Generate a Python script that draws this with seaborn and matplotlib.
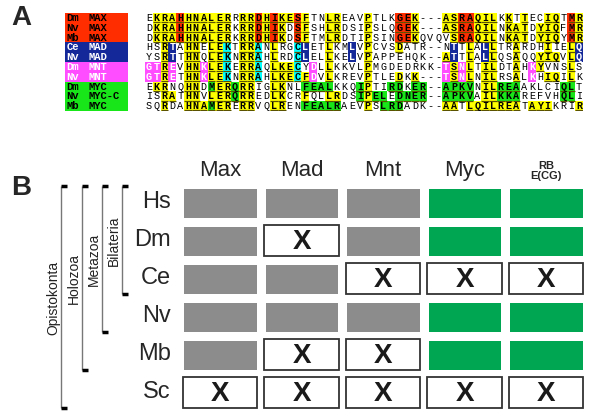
import numpy as np
import pandas as pd
import matplotlib
matplotlib.use("Agg")
import matplotlib.pyplot as plt
from matplotlib.colors import ListedColormap
from matplotlib.patches import Rectangle
import seaborn as sns

# ---------------- panel A: bHLHZip alignment ----------------
species_a = ["Dm", "Nv", "Mb", "Ce", "Nv", "Dm", "Nv", "Dm", "Nv", "Mb"]
genes_a = ["MAX", "MAX", "MAX", "MAD", "MAD", "MNT", "MNT", "MYC", "MYC-C", "MYC"]
family_a = ["max", "max", "max", "mad", "mad", "mnt", "mnt", "myc", "myc", "myc"]

# residues, written in blocks of 10
sequences = [
    "EKRAHHNALE RRRRDHIKES FTNLREAVPT LKGEK---AS RAQILKKTTE CIQTMR",
    "DKRAHHNALE RKRRDHIKDS FSHLRDSIPS LQGEK---AS RAQILNKATD YIQFMR",
    "DKRAHHNALE RKRRDHIKDS FTMLRDTIPS INGEKQVQVS RAQILNKATD YIQYMR",
    "HSRTAHNELE KTRRANLRGC LETLKMLVPC VSDATR--NT TLALLTRARD HIIELQ",
    "YSRTTHNQLE KNRRAHLRDC LELLKELVPA PPEHQK--AT TLALLQSAQQ YIQVLQ",
    "GTREVHNKLE KERRAQLKEC YDLLKKVLPM GDEDRKK-TS NLTILDTAHK YVNSLS",
    "GTRETHNKLE KNRRAHLKEC FDVLKREVPT LEDKK---TS NLNILRSALK HIQILK",
    "EKRNQHNDME RQRRIGLKNL FEALKKQIPT IRDKER--AP KVNILREAAK LCIQLT",
    "ISRATHNVLE RQRREDLKCR FQLLRDSIPE LEDNER--AP KVAILKKARE FVHQLI",
    "SQRDAHNAME RERRVQLREN FEALRAEVPS LRDADK--AA TLQILREATA YIKRIR",
]
# shading per residue: . none, y conserved, r MAX, b MAD, c MAD/MNT, m MNT, g MYC
shading = [
    ".yyyryyyyy y.yyryryyr y..yy...y. ..rry...yy rryyy.y.y. .yy.ry",
    ".yyyryyyyy y.yyryry.r y..yy...y. ..rry...yy rryyy.yyy. yyy.ry",
    ".yyyryyyyy y.yyryry.r y..yy...y. ..rry....y rryyy.yyy. yyy.ry",
    "..yb.yy.yy c.yyc.y..c b..y..b.y. ..y......b .y.by..y.. .y..yb",
    "..yb.yy.yy c.yyc.y..c b..y..b.y. ........yb .y.by..y.. yyy.yb",
    "mmym.yymyy c.yyc.yyyc .m.y....y. ........my my.yy..y.m y...y.",
    "mmym.yymyy c.yyc.yyyc ym.y....y. ..y.y...my my.yy..y.m .yy.y.",
    ".yy..yy.gy ygyy..yy.. gggg...gy. .gg.gg..gg gg.yyggg.. ...gg.",
    "..yy.yy.yy ygyy..yy.. y..yy..gyg g.gggg..gg gg.yyggg.. ...gg.",
    "..y..yyygy y.yy..yy.. ggggg...y. ggg.....yy .yyyyyyy.y yy...y",
]

# ---------------- panel B: presence / absence ----------------
species_b = ["Hs", "Dm", "Ce", "Nv", "Mb", "Sc"]
genes_b = ["Max", "Mad", "Mnt", "Myc", "RB\nE(CG)"]
gene_group = [1, 1, 1, 2, 2]  # 1 = grey (Max network), 2 = green (Myc)
presence = [
    [1, 1, 1, 1, 1],
    [1, 0, 1, 1, 1],
    [1, 1, 0, 0, 0],
    [1, 1, 1, 1, 1],
    [1, 0, 0, 1, 1],
    [0, 0, 0, 0, 0],
]
clades = ["Bilateria", "Metazoa", "Holozoa", "Opistokonta"]
clade_size = [3, 4, 5, 6]  # number of species from the top

sns.set_style("white")
plt.rcParams["font.family"] = ["Liberation Sans", "DejaVu Sans"]

W, H = 600, 420
fig = plt.figure(figsize=(6, 4.2), dpi=100)


def box(x0, y0, x1, y1):
    return [x0 / W, 1 - y1 / H, (x1 - x0) / W, (y1 - y0) / H]


codes = ".yrbcmg"
shade_colors = ["white", "#ffff00", "#ff2d00", "#14289a", "#00ffff", "#ff4dff", "#19e619"]
seq = [s.replace(" ", "") for s in sequences]
shd = [s.replace(" ", "") for s in shading]
shade_idx = np.array([[codes.index(c) for c in row] for row in shd])
SEQ_FS = 7.3

ax_seq = fig.add_axes(box(145, 13, 583, 111))
sns.heatmap(shade_idx, cmap=ListedColormap(shade_colors), vmin=-0.5, vmax=6.5,
            cbar=False, xticklabels=False, yticklabels=False, ax=ax_seq)
ul_y, ul_x0, ul_x1 = [], [], []
for i, (s, c) in enumerate(zip(seq, shd)):
    for j, (ch, code) in enumerate(zip(s, c)):
        ax_seq.text(j + 0.5, i + 0.52, ch, ha="center", va="center",
                    family="Liberation Mono", fontsize=SEQ_FS,
                    weight="normal" if code == "." else "bold",
                    color="white" if code in "bm" else "black")
        if code in "yrgc":
            ul_y.append(i + 0.93)
            ul_x0.append(j + 0.02)
            ul_x1.append(j + 0.98)
ax_seq.hlines(ul_y, ul_x0, ul_x1, colors="#5a5200", lw=0.9)

# name boxes
fam_order = ["max", "mad", "mnt", "myc"]
fam_colors = ["#ff2d00", "#14289a", "#ff4dff", "#19e619"]
fam_idx = np.array([[fam_order.index(f)] for f in family_a])
ax_name = fig.add_axes(box(64.5, 13, 128, 111))
sns.heatmap(fam_idx, cmap=ListedColormap(fam_colors), vmin=-0.5, vmax=3.5,
            cbar=False, xticklabels=False, yticklabels=False, ax=ax_name)
for i, (sp, g, f) in enumerate(zip(species_a, genes_a, family_a)):
    col = "white" if f in ("mad", "mnt") else "black"
    ax_name.text(0.03, i + 0.52, sp, ha="left", va="center", family="Liberation Mono",
                 fontsize=SEQ_FS + 0.3, weight="bold", color=col)
    ax_name.text(0.38, i + 0.52, g, ha="left", va="center", family="Liberation Mono",
                 fontsize=SEQ_FS + 0.3, weight="bold", color=col)

# ---------------- panel B ----------------
pres = np.array(presence)
mat = pres * np.array(gene_group)[None, :]
df = pd.DataFrame(mat, index=species_b, columns=genes_b)

ax_b = fig.add_axes(box(179.25, 183.5, 586.75, 411.5))
sns.heatmap(df, cmap=ListedColormap(["white", "#8c8c8c", "#00a651"]), vmin=-0.5, vmax=2.5,
            linewidths=5.3, linecolor="white", cbar=False, ax=ax_b)
ax_b.xaxis.tick_top()
ax_b.tick_params(length=0, pad=2)
ax_b.set_xticklabels(genes_b, rotation=0, fontsize=16)
ax_b.set_yticklabels(species_b, rotation=0, fontsize=17)
ax_b.tick_params(axis="y", pad=6)
rb = ax_b.get_xticklabels()[-1]
rb.set_fontsize(8)
rb.set_fontweight("bold")
rb.set_linespacing(1.0)
ax_b.set_xlabel("")
ax_b.set_ylabel("")

gx, gy = 3.7 / 81.5, 3.6 / 38
for i in range(pres.shape[0]):
    for j in range(pres.shape[1]):
        if pres[i, j] == 0:
            ax_b.add_patch(Rectangle((j + gx, i + gy), 1 - 2 * gx, 1 - 2 * gy,
                                     fill=False, ec="#333333", lw=1.3))
            ax_b.text(j + 0.5, i + 0.55, "X", ha="center", va="center",
                      fontsize=20, weight="bold", color="#1a1a1a")

# clade brackets
ax_t = fig.add_axes(box(40, 183.5, 135, 411.5))
ax_t.set_xlim(0, 95)
ax_t.set_ylim(6, 0)
ax_t.axis("off")
bracket_x = [82, 62, 42, 21]
for name, n, x in zip(clades, clade_size, bracket_x):
    ax_t.vlines(x, gy * 0.6, n - gy, color="#777777", lw=1)
    ax_t.hlines([gy * 0.6, n - gy], x, x + 6, color="black", lw=2.5)
    ax_t.text(x - 8, n / 2, name, rotation=90, ha="center", va="center",
              fontsize=10, color="#222222")

fig.text(21 / W, 1 - 18 / H, "A", fontsize=20, weight="bold", ha="center", va="center")
fig.text(21 / W, 1 - 188 / H, "B", fontsize=20, weight="bold", ha="center", va="center")

fig.savefig("out.png", dpi=100)
